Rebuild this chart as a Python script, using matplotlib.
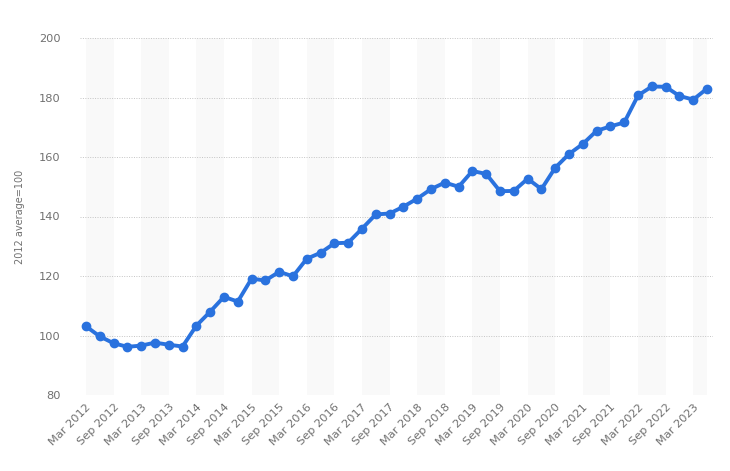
import numpy as np
import matplotlib.pyplot as plt

# quarterly index values, Mar 2012 - Jun 2023
quarters = ["Mar", "Jun", "Sep", "Dec"]
periods = [f"{quarters[i % 4]} {2012 + i // 4}" for i in range(46)]
values = [103.1, 99.7, 97.4, 96.2, 96.6, 97.6, 96.9, 96.3,
          103.3, 108.0, 113.0, 111.4, 119.1, 118.5, 121.4, 119.9,
          125.8, 127.8, 131.0, 131.2, 135.9, 140.7, 141.0, 143.3,
          146.0, 149.2, 151.4, 150.0, 155.3, 154.3, 148.5, 148.6,
          152.7, 149.2, 156.4, 161.0, 164.4, 168.8, 170.3, 171.6,
          180.7, 183.7, 183.6, 180.5, 179.3, 183.0]
y_ticks = [80, 100, 120, 140, 160, 180, 200]

fig = plt.figure(figsize=(7.3, 4.71), dpi=100)
ax = fig.add_axes([80 / 730, 1 - 395 / 471, 633 / 730, 357 / 471])

x = np.arange(len(values))

# alternating background bands, two quarters wide
for start in range(0, len(values), 4):
    ax.axvspan(start, min(start + 2, len(values) - 1), color="#f9f9f9", zorder=0, lw=0)

for yv in y_ticks:
    ax.axhline(yv, color="#c4c4c4", lw=0.7, ls=(0, (1, 1.5)), zorder=1)

ax.plot(x, values, color="#2a72de", lw=2.8, marker="o", ms=6,
        solid_joinstyle="round", solid_capstyle="round", zorder=3)

ax.set_xlim(-0.43, len(values) - 1 + 0.43)
ax.set_ylim(80, 200)
ax.set_yticks(y_ticks)
ax.set_yticklabels([str(v) for v in y_ticks])
ax.set_xticks(x[::2])
ax.set_xticklabels(periods[::2], rotation=45, ha="right", rotation_mode="anchor")

ax.tick_params(axis="both", length=0, colors="#707070", labelsize=8.2)
ax.tick_params(axis="y", pad=14)
ax.tick_params(axis="x", pad=5)
for s in ax.spines.values():
    s.set_visible(False)

ax.set_ylabel("2012 average=100", color="#707070", fontsize=7, labelpad=10)

fig.savefig("out.png", dpi=100)
